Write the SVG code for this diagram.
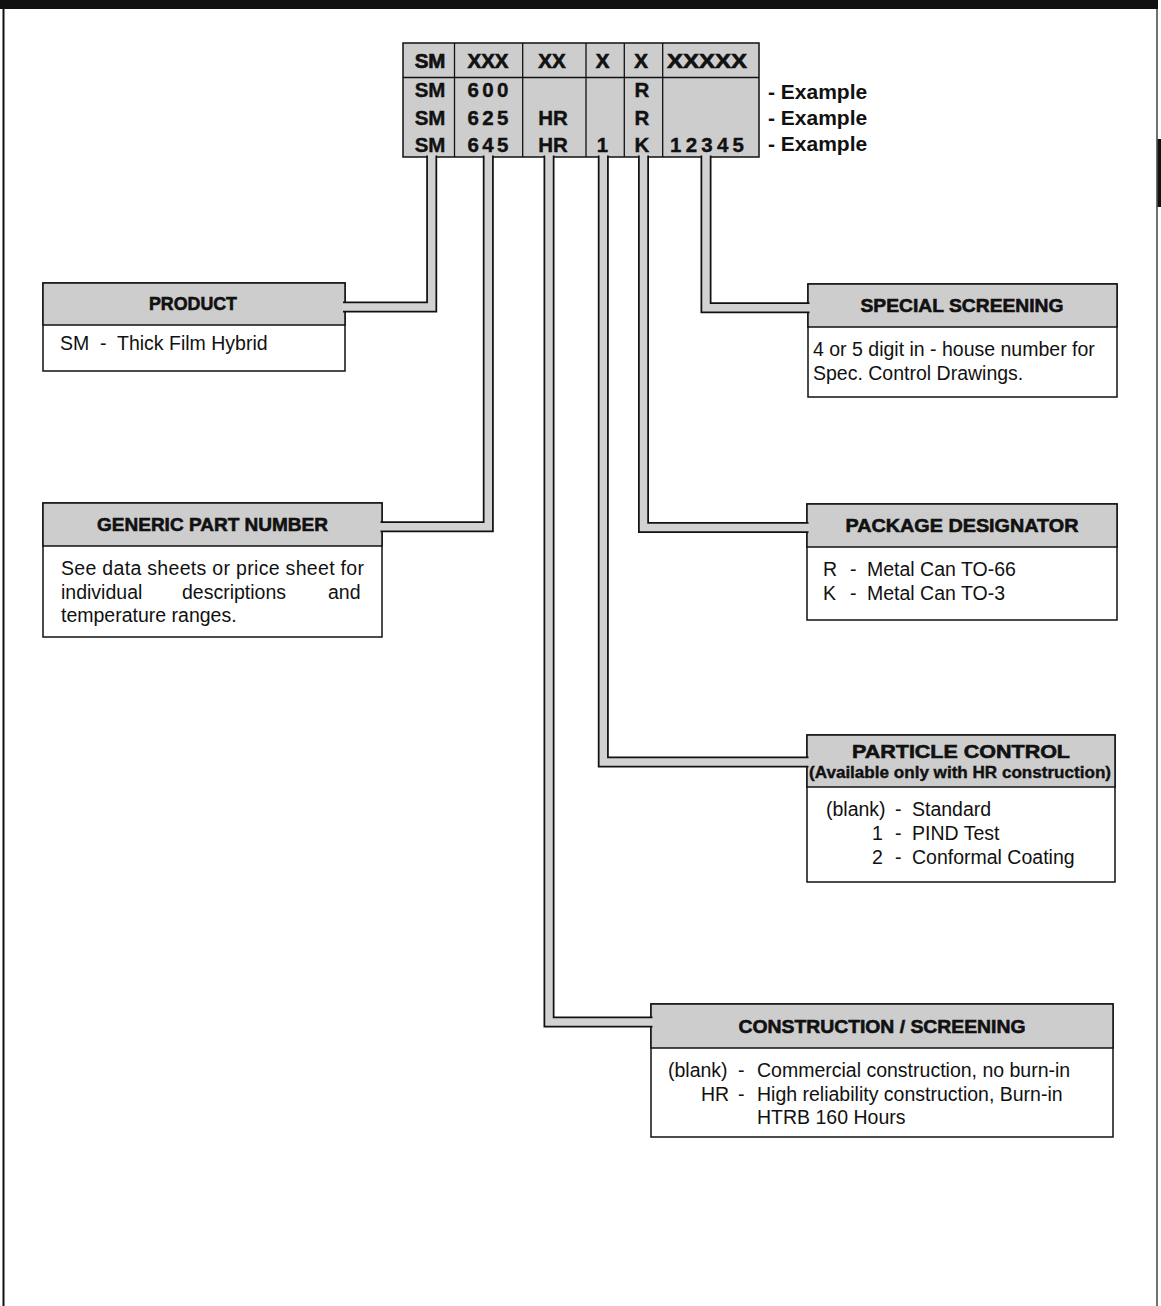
<svg xmlns="http://www.w3.org/2000/svg" width="1161" height="1306" viewBox="0 0 1161 1306">
<style>
.bg{fill:#ffffff}
.hdr{fill:#cdcdcd;stroke:#111;stroke-width:1.5}
.body{fill:#ffffff;stroke:#111;stroke-width:1.5}
.tbl{fill:#cdcdcd;stroke:#111;stroke-width:1.5}
.div{stroke:#111;stroke-width:1.3;fill:none}
.pipeO{fill:none;stroke:#111;stroke-width:11;stroke-linejoin:miter}
.pipeI{fill:none;stroke:#d2d2d2;stroke-width:7.5;stroke-linejoin:miter}
.ttl{font-family:"Liberation Sans",Arial,sans-serif;font-weight:bold;font-size:19px;fill:#111;stroke:#111;stroke-width:0.6;text-anchor:middle}
.sub{font-family:"Liberation Sans",Arial,sans-serif;font-weight:bold;font-size:16.5px;fill:#111;stroke:#111;stroke-width:0.4;text-anchor:middle}
.txt{font-family:"Liberation Sans",Arial,sans-serif;font-size:19.5px;fill:#111}
.code{font-family:"Liberation Sans",Arial,sans-serif;font-weight:bold;font-size:20.5px;fill:#111;stroke:#111;stroke-width:0.4;text-anchor:middle}
.codeh{font-family:"Liberation Sans",Arial,sans-serif;font-weight:bold;font-size:20.5px;fill:#111;stroke:#111;stroke-width:0.7;text-anchor:middle}
.ex{font-family:"Liberation Sans",Arial,sans-serif;font-weight:bold;font-size:21px;fill:#111}
</style>
<rect class="bg" x="0" y="0" width="1161" height="1306"/>
<g id="page-frame">
<rect x="0" y="0" width="1158" height="9" fill="#111"/>
<line x1="3.5" y1="0" x2="3.5" y2="1306" stroke="#111" stroke-width="2"/>
<line x1="1157" y1="0" x2="1157" y2="1306" stroke="#111" stroke-width="1.2"/>
<rect x="1157.5" y="139" width="3.5" height="68" fill="#111"/>
</g>
<g id="code-table">
<rect class="tbl" x="403" y="43" width="356" height="114"/>
<line class="div" x1="403" y1="77.5" x2="759" y2="77.5"/>
<line class="div" x1="454.5" y1="43" x2="454.5" y2="157"/>
<line class="div" x1="522.7" y1="43" x2="522.7" y2="157"/>
<line class="div" x1="586" y1="43" x2="586" y2="157"/>
<line class="div" x1="624.3" y1="43" x2="624.3" y2="157"/>
<line class="div" x1="662.7" y1="43" x2="662.7" y2="157"/>
<text class="codeh" x="430" y="68">SM</text>
<text class="codeh" x="488" y="68" textLength="41" lengthAdjust="spacingAndGlyphs">XXX</text>
<text class="codeh" x="552" y="68">XX</text>
<text class="codeh" x="602.5" y="68">X</text>
<text class="codeh" x="641" y="68">X</text>
<text class="codeh" x="707" y="68" textLength="80" lengthAdjust="spacingAndGlyphs">XXXXX</text>
<text class="code" x="430" y="97">SM</text>
<text class="code" x="488" y="97" textLength="41" lengthAdjust="spacing">600</text>
<text class="code" x="642" y="97">R</text>
<text class="code" x="430" y="125">SM</text>
<text class="code" x="488" y="125" textLength="41" lengthAdjust="spacing">625</text>
<text class="code" x="553" y="125">HR</text>
<text class="code" x="642" y="125">R</text>
<text class="code" x="430" y="151.5">SM</text>
<text class="code" x="488" y="151.5" textLength="41" lengthAdjust="spacing">645</text>
<text class="code" x="553" y="151.5">HR</text>
<text class="code" x="602.5" y="151.5">1</text>
<text class="code" x="642" y="151.5">K</text>
<text class="code" x="707" y="151.5" textLength="74" lengthAdjust="spacing">12345</text>
<text class="ex" x="768" y="99">- Example</text>
<text class="ex" x="768" y="125">- Example</text>
<text class="ex" x="768" y="151">- Example</text>
</g>
<g id="product">
<rect class="body" x="43" y="283" width="302" height="88"/>
<rect class="hdr" x="43" y="283" width="302" height="42"/>
<text class="ttl" x="193" y="310" textLength="88" lengthAdjust="spacingAndGlyphs">PRODUCT</text>
<text class="txt" y="350"><tspan x="60">SM</tspan><tspan x="100">-</tspan><tspan x="117">Thick Film Hybrid</tspan></text>
</g>
<g id="generic-part-number">
<rect class="body" x="43" y="503" width="339" height="134"/>
<rect class="hdr" x="43" y="503" width="339" height="43"/>
<text class="ttl" x="212.5" y="531" textLength="231" lengthAdjust="spacingAndGlyphs">GENERIC PART NUMBER</text>
<text class="txt" x="61" y="575" textLength="303" lengthAdjust="spacing">See data sheets or price sheet for</text>
<text class="txt" y="599"><tspan x="61">individual</tspan><tspan x="182">descriptions</tspan><tspan x="328">and</tspan></text>
<text class="txt" x="61" y="622">temperature ranges.</text>
</g>
<g id="special-screening">
<rect class="body" x="808" y="284" width="309" height="113"/>
<rect class="hdr" x="808" y="284" width="309" height="43"/>
<text class="ttl" x="962" y="312" textLength="203" lengthAdjust="spacingAndGlyphs">SPECIAL SCREENING</text>
<text class="txt" x="813" y="356">4 or 5 digit in - house number for</text>
<text class="txt" x="813" y="380">Spec. Control Drawings.</text>
</g>
<g id="package-designator">
<rect class="body" x="807" y="504" width="310" height="116"/>
<rect class="hdr" x="807" y="504" width="310" height="43"/>
<text class="ttl" x="962" y="532" textLength="233" lengthAdjust="spacingAndGlyphs">PACKAGE DESIGNATOR</text>
<text class="txt" y="576"><tspan x="823">R</tspan><tspan x="850">-</tspan><tspan x="867">Metal Can TO-66</tspan></text>
<text class="txt" y="600"><tspan x="823">K</tspan><tspan x="850">-</tspan><tspan x="867">Metal Can TO-3</tspan></text>
</g>
<g id="particle-control">
<rect class="body" x="807" y="735" width="308" height="147"/>
<rect class="hdr" x="807" y="735" width="308" height="52"/>
<text class="ttl" x="961" y="758" textLength="218" lengthAdjust="spacingAndGlyphs">PARTICLE CONTROL</text>
<text class="sub" x="960" y="778" textLength="302" lengthAdjust="spacingAndGlyphs">(Available only with HR construction)</text>
<text class="txt" y="816"><tspan x="826">(blank)</tspan><tspan x="895">-</tspan><tspan x="912">Standard</tspan></text>
<text class="txt" y="840"><tspan x="872">1</tspan><tspan x="895">-</tspan><tspan x="912">PIND Test</tspan></text>
<text class="txt" y="864"><tspan x="872">2</tspan><tspan x="895">-</tspan><tspan x="912">Conformal Coating</tspan></text>
</g>
<g id="construction-screening">
<rect class="body" x="651" y="1004" width="462" height="133"/>
<rect class="hdr" x="651" y="1004" width="462" height="44"/>
<text class="ttl" x="882" y="1033" textLength="287" lengthAdjust="spacingAndGlyphs">CONSTRUCTION / SCREENING</text>
<text class="txt" y="1077"><tspan x="668">(blank)</tspan><tspan x="738">-</tspan><tspan x="757">Commercial construction, no burn-in</tspan></text>
<text class="txt" y="1101"><tspan x="701">HR</tspan><tspan x="738">-</tspan><tspan x="757">High reliability construction, Burn-in</tspan></text>
<text class="txt" x="757" y="1124">HTRB 160 Hours</text>
</g>
<g id="connectors">
<path class="pipeO" d="M431.7,155.5 V307 H343"/>
<path class="pipeI" d="M431.7,154 V307 H342"/>
<path class="pipeO" d="M488.3,155.5 V526.7 H380.5"/>
<path class="pipeI" d="M488.3,154 V526.7 H379.5"/>
<path class="pipeO" d="M549,155.5 V1022 H652.5"/>
<path class="pipeI" d="M549,154 V1022 H653.5"/>
<path class="pipeO" d="M603.3,155.5 V762 H808.5"/>
<path class="pipeI" d="M603.3,154 V762 H809.5"/>
<path class="pipeO" d="M643.5,155.5 V527.5 H808.5"/>
<path class="pipeI" d="M643.5,154 V527.5 H809.5"/>
<path class="pipeO" d="M706,155.5 V307.7 H809.5"/>
<path class="pipeI" d="M706,154 V307.7 H810.5"/>
</g>
</svg>
